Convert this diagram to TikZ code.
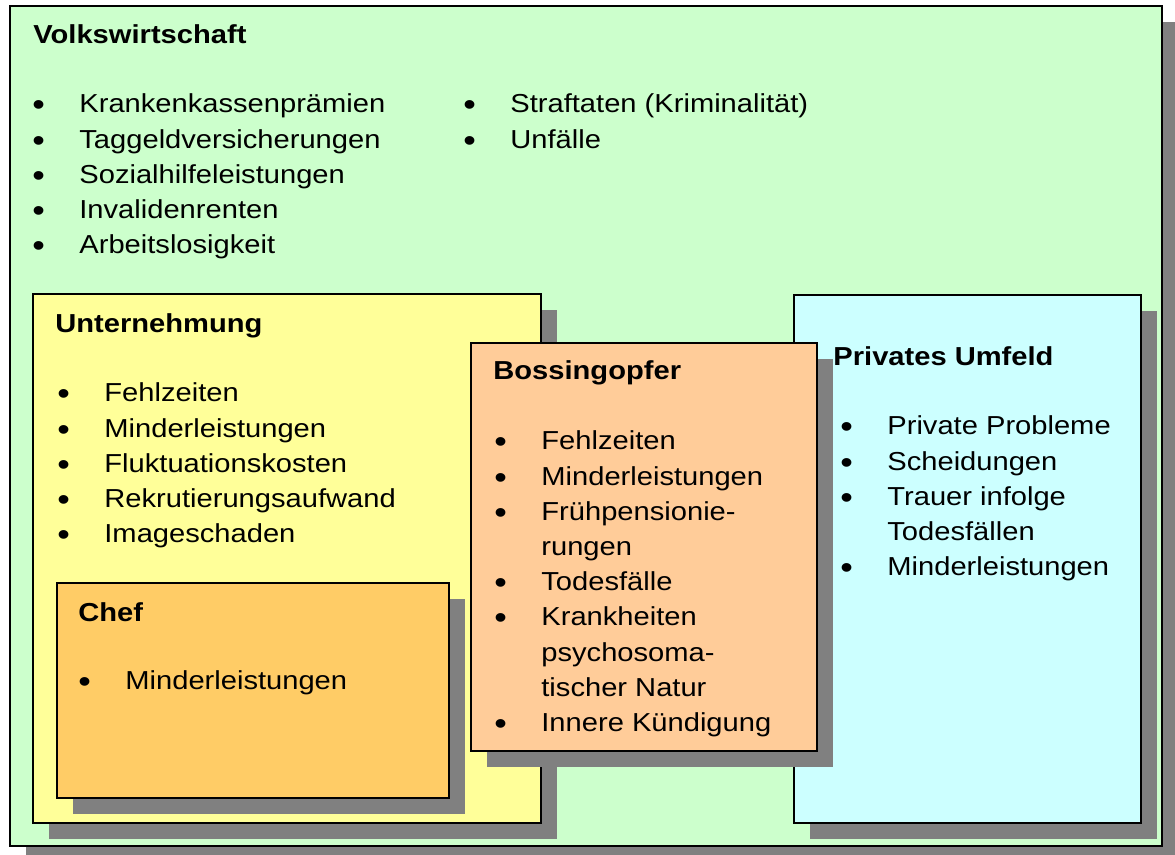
\documentclass[tikz,border=0pt]{standalone}
\usepackage{fontspec}
\setmainfont{Liberation Sans}[FakeStretch=1.12]
\usetikzlibrary{fit,shadows}

\definecolor{volkgreen}{HTML}{CCFFCC}
\definecolor{untyellow}{HTML}{FFFF99}
\definecolor{chefbox}{HTML}{FFCC66}
\definecolor{opferbox}{HTML}{FFCC99}
\definecolor{privcyan}{HTML}{CCFFFF}
\definecolor{shadowgray}{HTML}{808080}

\newenvironment{bulletlist}{\begin{tabular}[t]{@{}p{23.5pt}@{}l@{}}}{\end{tabular}}
\newcommand{\bl}{\raisebox{-1.5pt}{\fontsize{16}{17.6}\selectfont\textbullet}}

\begin{document}
\begin{tikzpicture}[x=0.5pt, y=-0.5pt,
	every node/.style={font=\fontsize{13}{17.6}\selectfont, inner sep=0pt},
	panel/.style={draw=black, line width=1pt, inner sep=0pt,
		drop shadow={shadow xshift=8pt, shadow yshift=-8pt, fill=shadowgray, opacity=1}},
	head/.style={anchor=base west, font=\fontsize{13}{17.6}\selectfont\bfseries},
	list/.style={anchor=base west}]
	\useasboundingbox (0,0) rectangle (1175,855);
	% Kästen
	\node[panel, fill=volkgreen, fit={(10,6) (1162,846)}] (volk) {};
	\node[panel, fill=untyellow, fit={(33,294) (541,823)}] (unt) {};
	\node[panel, fill=chefbox, fit={(57,583) (449,798)}] (chef) {};
	\node[panel, fill=privcyan, fit={(794,295) (1141,823)}] (priv) {};
	\node[panel, fill=opferbox, fit={(471,343) (817,751)}] (opfer) {};
	% Volkswirtschaft
	\node[head] (volk-t) at (33,44) {Volkswirtschaft};
	\node[list] (volk-a) at (32,113) {\begin{bulletlist}
		\bl & Krankenkassenprämien\\
		\bl & Taggeldversicherungen\\
		\bl & Sozialhilfeleistungen\\
		\bl & Invalidenrenten\\
		\bl & Arbeitslosigkeit
	\end{bulletlist}};
	\node[list] (volk-b) at (463,113) {\begin{bulletlist}
		\bl & Straftaten (Kriminalität)\\
		\bl & Unfälle
	\end{bulletlist}};
	% Unternehmung
	\node[head] (unt-t) at (55,333) {Unternehmung};
	\node[list] (unt-a) at (57,402) {\begin{bulletlist}
		\bl & Fehlzeiten\\
		\bl & Minderleistungen\\
		\bl & Fluktuationskosten\\
		\bl & Rekrutierungsaufwand\\
		\bl & Imageschaden
	\end{bulletlist}};
	% Chef
	\node[head] (chef-t) at (78,622) {Chef};
	\node[list] (chef-a) at (78,690) {\begin{bulletlist}
		\bl & Minderleistungen
	\end{bulletlist}};
	% Privates Umfeld
	\node[head] (priv-t) at (833,366) {Privates Umfeld};
	\node[list] (priv-a) at (840,435) {\begin{bulletlist}
		\bl & Private Probleme\\
		\bl & Scheidungen\\
		\bl & Trauer infolge\\
		    & Todesfällen\\
		\bl & Minderleistungen
	\end{bulletlist}};
	% Bossingopfer
	\node[head] (opfer-t) at (493,380) {Bossingopfer};
	\node[list] (opfer-a) at (494,450) {\begin{bulletlist}
		\bl & Fehlzeiten\\
		\bl & Minderleistungen\\
		\bl & Frühpensionie-\\
		    & rungen\\
		\bl & Todesfälle\\
		\bl & Krankheiten\\
		    & psychosoma-\\
		    & tischer Natur\\
		\bl & Innere Kündigung
	\end{bulletlist}};
\end{tikzpicture}
\end{document}
